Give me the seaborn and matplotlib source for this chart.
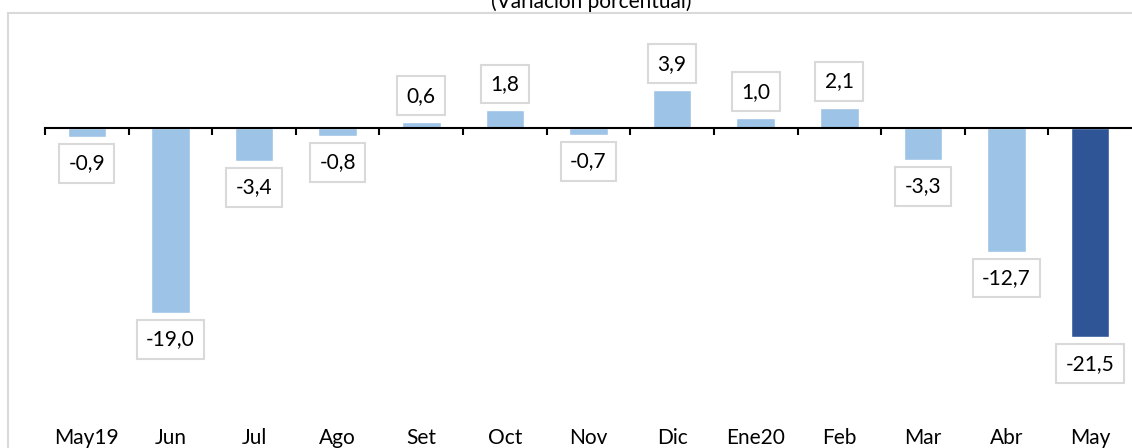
import numpy as np
import pandas as pd
import matplotlib
matplotlib.use("Agg")
import matplotlib.pyplot as plt
import seaborn as sns
from matplotlib.patches import Rectangle

# data
meses = ["May19", "Jun", "Jul", "Ago", "Set", "Oct", "Nov", "Dic",
         "Ene20", "Feb", "Mar", "Abr", "May"]
variacion = [-0.9, -19.0, -3.4, -0.8, 0.6, 1.8, -0.7, 3.9, 1.0, 2.1, -3.3, -12.7, -21.5]
subtitulo = "(Variación porcentual)"

claro = "#9DC3E6"
oscuro = "#2F5597"
colores = [claro] * (len(meses) - 1) + [oscuro]

sns.set_theme(style="white")
plt.rcParams['font.family'] = ['Lato', 'DejaVu Sans']
fs = 15

df = pd.DataFrame({"mes": meses, "var": variacion})

W, H = 1132, 448
fig = plt.figure(figsize=(W / 100, H / 100), dpi=100)

# grey frame of the chart area (runs off the right and bottom edges)
fig.patches.append(Rectangle((8 / W, -0.1), 1.2, 1 - 13 / H + 0.1, transform=fig.transFigure,
                             fill=False, edgecolor="#D9D9D9", lw=1.5, zorder=0))
fig.text(591 / W, 1 - 8 / H, subtitulo, ha="center", va="baseline", fontsize=fs, color="black")

ax = fig.add_axes([45 / W, 0, 1 - 45 / W, 1])
ax.patch.set_alpha(0)

sns.barplot(data=df, x="mes", y="var", hue="mes", palette=colores, legend=False,
            width=0.46, saturation=1, ax=ax)

px = 9.74  # pixels per unit
ax.set_ylim(-(H - 128) / px, 128 / px)
ax.set_xlim(-0.5, len(meses) - 0.5)

for s in ["top", "right", "left"]:
    ax.spines[s].set_visible(False)
ax.spines["bottom"].set_position(("data", 0))
ax.spines["bottom"].set_color("black")
ax.spines["bottom"].set_linewidth(1.5)
ax.set_xticks(np.arange(-0.5, len(meses) - 0.5, 1))
ax.set_xticklabels([])
ax.tick_params(axis="x", bottom=True, length=5, width=1.5, color="black", direction="out")
ax.set_yticks([])
ax.set_xlabel("")
ax.set_ylabel("")

# category labels at the bottom of the chart
for i, m in enumerate(meses):
    ax.text(i, 4 / H, m, transform=ax.get_xaxis_transform(), ha="center", va="baseline",
            fontsize=fs, color="black")

# value labels in boxes
for i, v in enumerate(variacion):
    off = 19 if v > 0 else -19
    ax.annotate(f"{v:.1f}".replace(".", ","), xy=(i, v), xytext=(0, off),
                textcoords="offset points", ha="center", va="center",
                fontsize=fs, color="black",
                bbox=dict(boxstyle="square,pad=0.45", facecolor="white",
                          edgecolor="#D9D9D9", lw=1.5))

fig.savefig("out.png", dpi=100)
